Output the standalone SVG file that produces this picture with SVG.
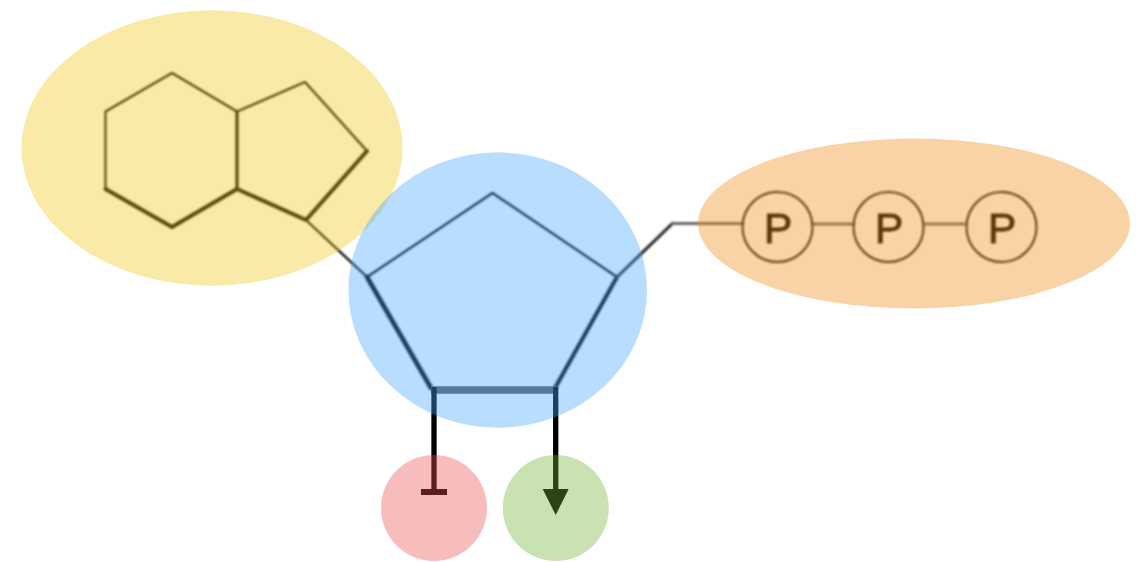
<svg xmlns="http://www.w3.org/2000/svg" width="1146" height="562" viewBox="0 0 1146 562">
  <style>
    .bond { fill: none; stroke: #000; stroke-width: 2.200; stroke-linejoin: round; stroke-linecap: round; }
    .thick { stroke-width: 4; }
    .mid { stroke-width: 3.200; }
    .gray { stroke: #666; stroke-width: 3.200; }
    .ring { fill: none; stroke: #111; stroke-width: 2; }
    .p { font-family: "Liberation Sans", Arial, sans-serif; font-size: 43px; fill: #000; stroke: #000; stroke-width: 0.800; text-anchor: middle; }
    .link { fill: none; stroke: #000; stroke-width: 5.300; }
    .halo { fill-opacity: 0.385; }
  </style>
  <defs>
    <filter id="soft" x="-5%" y="-5%" width="110%" height="110%">
      <feGaussianBlur stdDeviation="0.9"/>
    </filter>
    <marker id="arrow" markerUnits="userSpaceOnUse" markerWidth="28" markerHeight="28" refX="1" refY="13" orient="auto">
      <path d="M1 0L27 13L1 26Z" fill="#000"/>
    </marker>
    <marker id="tbar" markerUnits="userSpaceOnUse" markerWidth="8" markerHeight="28" refX="4" refY="14" orient="auto">
      <path d="M1 1H7V27H1Z" fill="#000"/>
    </marker>
  </defs>

  <g id="connectors">
    <g id="skeleton" filter="url(#soft)">
      <path class="bond" d="M105.500 189V111.500L172 73L237 111.500"/>
      <path class="bond" d="M237 111.500L305 82L367 151"/>
      <path class="bond mid" d="M237 111.500V189"/>
      <path class="bond thick" d="M105.500 189L172 227L237 189L306 220L367 151"/>
      <path class="bond" d="M306 220L367 277"/>
      <path class="bond" d="M367 277L492.500 193L617 277"/>
      <path class="bond thick" style="stroke-width:4.600" d="M367 277L431 388"/>
      <path class="bond thick" d="M617 277L555 388"/>
      <path class="bond" style="stroke-width:3;stroke:#222" d="M617 277L673 223"/>
      <path class="bond gray" d="M673 223.500H743"/>
      <path class="bond gray" d="M812 224H854"/>
      <path class="bond gray" d="M924 224H966"/>
      <circle class="ring" cx="777.500" cy="227" r="35"/>
      <circle class="ring" cx="888.500" cy="227" r="35"/>
      <circle class="ring" cx="1001.500" cy="227" r="35"/>
      <text class="p" x="778" y="243">P</text>
      <text class="p" x="889" y="243">P</text>
      <text class="p" x="1002" y="243">P</text>
    </g>
    <path d="M431 390H556" fill="none" stroke="#5e5e5e" stroke-width="7.500"/>
    <path id="inhibit" class="link" d="M434 387V492" marker-end="url(#tbar)"/>
    <path id="activate" class="link" d="M555.700 387V489" marker-end="url(#arrow)"/>
  </g>

  <g id="base-group"><ellipse class="halo" cx="212" cy="148" rx="190.500" ry="137.700" fill="#EFC81D"/></g>
  <g id="sugar-group"><ellipse class="halo" cx="497.700" cy="290" rx="149.300" ry="137.700" fill="#47A6FF"/></g>
  <g id="phosphate-group"><ellipse class="halo" cx="914" cy="223.500" rx="216" ry="85" fill="#EF8C15"/></g>
  <g id="inhibit-target"><circle class="halo" cx="434" cy="508" r="53" fill="#EA5050"/></g>
  <g id="activate-target"><circle class="halo" cx="555.800" cy="508" r="53" fill="#72B337"/></g>
</svg>
